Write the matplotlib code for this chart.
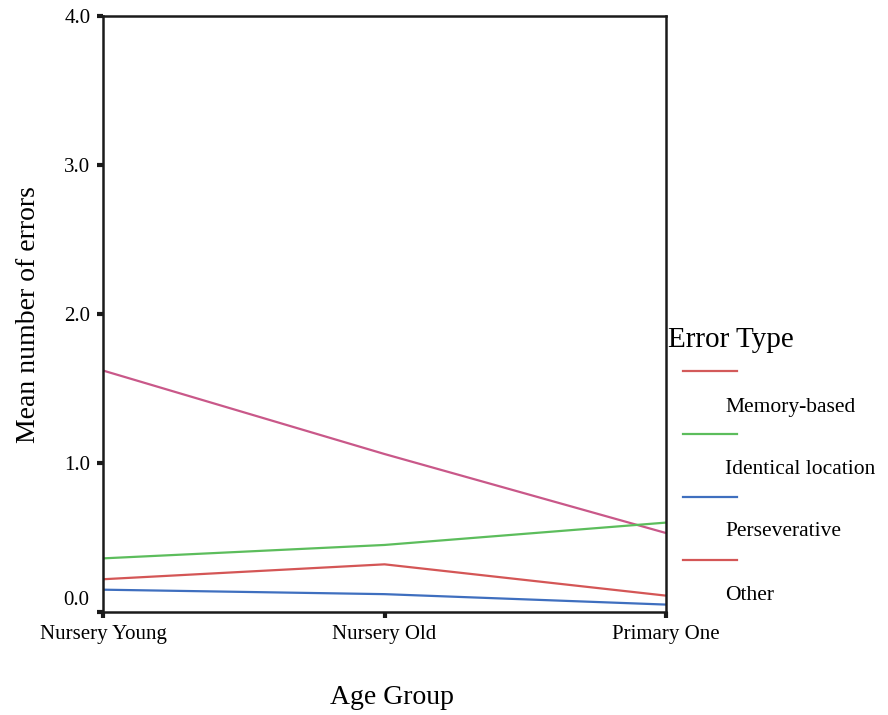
import matplotlib
matplotlib.use("Agg")
import matplotlib.pyplot as plt
from matplotlib.lines import Line2D

plt.rcParams['font.family'] = ['Liberation Serif', 'DejaVu Serif']

age_groups = ["Nursery Young", "Nursery Old", "Primary One"]
error_types = ["Memory-based", "Identical location", "Perseverative", "Other"]
memory_based = [1.62, 1.06, 0.53]
identical_location = [0.36, 0.45, 0.60]
perseverative = [0.15, 0.12, 0.05]
other = [0.22, 0.32, 0.11]
y_ticks = [0.0, 1.0, 2.0, 3.0, 4.0]

series = [memory_based, identical_location, perseverative, other]
line_colors = ["#c95889", "#5cbd5c", "#3f6fbf", "#d45656"]
legend_colors = ["#d35a5a", "#5cbd5c", "#3f6fbf", "#d45656"]

fig = plt.figure(figsize=(8.88, 7.15), dpi=100)
ax = fig.add_axes([0.116, 0.144, 0.634, 0.834])

x = list(range(len(age_groups)))
for vals, col in zip(series, line_colors):
    ax.plot(x, vals, color=col, lw=1.6, solid_capstyle='butt')

ax.set_xlim(0, len(age_groups) - 1)
ax.set_ylim(0, 4.0)
ax.set_yticks(y_ticks)
# the lowest value label sits a little above its tick, clear of the categories
ax.set_yticklabels([""] + [f"{t:.1f}" for t in y_ticks[1:]], fontsize=15)
ax.annotate(f"{y_ticks[0]:.1f}", xy=(0, y_ticks[0]), xycoords=('axes fraction', 'data'),
            xytext=(-10, 8.5), textcoords='offset points', fontsize=15,
            ha='right', va='center')
ax.set_xticks(x)
ax.set_xticklabels(age_groups, fontsize=15)

for s in ax.spines.values():
    s.set_linewidth(1.8)
    s.set_color("#1a1a1a")
ax.tick_params(axis='both', direction='out', length=4, width=3, color="#1a1a1a")
ax.tick_params(axis='x', pad=5)
ax.tick_params(axis='y', pad=5)

fig.text(0.032, 0.56, "Mean number of errors", rotation=90, fontsize=20,
         ha='center', va='center')
fig.text(0.441, 0.025, "Age Group", fontsize=20, ha='center', va='center')

# Legend: line sample above each label
fig.text(668 / 888, 1 - 340 / 715, "Error Type", fontsize=21, ha='left', va='center')
line_y = [371, 434, 497, 560]
label_y = [408, 470, 532, 595]
for name, col, ly, ty in zip(error_types, legend_colors, line_y, label_y):
    fy = 1 - ly / 715
    fig.add_artist(Line2D([683 / 888, 737 / 888], [fy, fy], color=col, lw=1.6,
                          transform=fig.transFigure))
    fig.text(725 / 888, 1 - ty / 715, name, fontsize=15.5, ha='left', va='center')

fig.savefig("out.png", dpi=100)
